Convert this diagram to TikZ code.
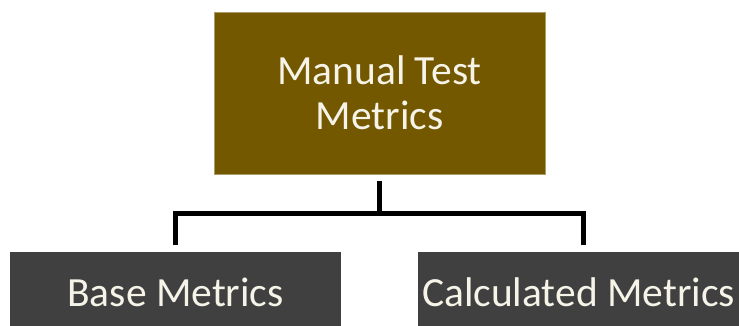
\documentclass[tikz,border=0pt]{standalone}
\usepackage{fontspec}
\setmainfont{Carlito}
\definecolor{olivebox}{RGB}{115,88,0}
\definecolor{darkbox}{RGB}{64,64,64}
\definecolor{cream}{RGB}{246,243,232}
\tikzset{
  topbox/.style={fill=olivebox, draw=olivebox!60!white, line width=0.6pt, minimum width=331pt, minimum height=162pt, inner sep=0pt, text=cream, align=center, font=\fontsize{41.5}{45}\selectfont},
  basebox/.style={fill=darkbox, minimum width=331pt, minimum height=80pt, inner sep=0pt, text=cream, font=\fontsize{41.5}{45}\selectfont},
  conn/.style={draw=black, line width=5pt}
}
\begin{document}
\begin{tikzpicture}[x=1pt,y=-1pt]
\useasboundingbox (0,0) rectangle (739,326);
\clip (0,0) rectangle (739,326);
\fill[white] (0,0) rectangle (739,326);
\node[topbox] (top) at (379.5,93) {Manual Test\\Metrics};
\node[basebox] (left) at (175.5,292) {Base Metrics};
\node[basebox, minimum width=321pt] (right) at (578.5,292) {Calculated Metrics};
\coordinate (j) at (379.5,213);
\coordinate (rdrop) at (583.5,245);
\draw[conn] ([yshift=-7pt]top.south) -- (j);
\draw[conn] ([yshift=7pt]left.north) |- (j) -| (rdrop);
\end{tikzpicture}
\end{document}
